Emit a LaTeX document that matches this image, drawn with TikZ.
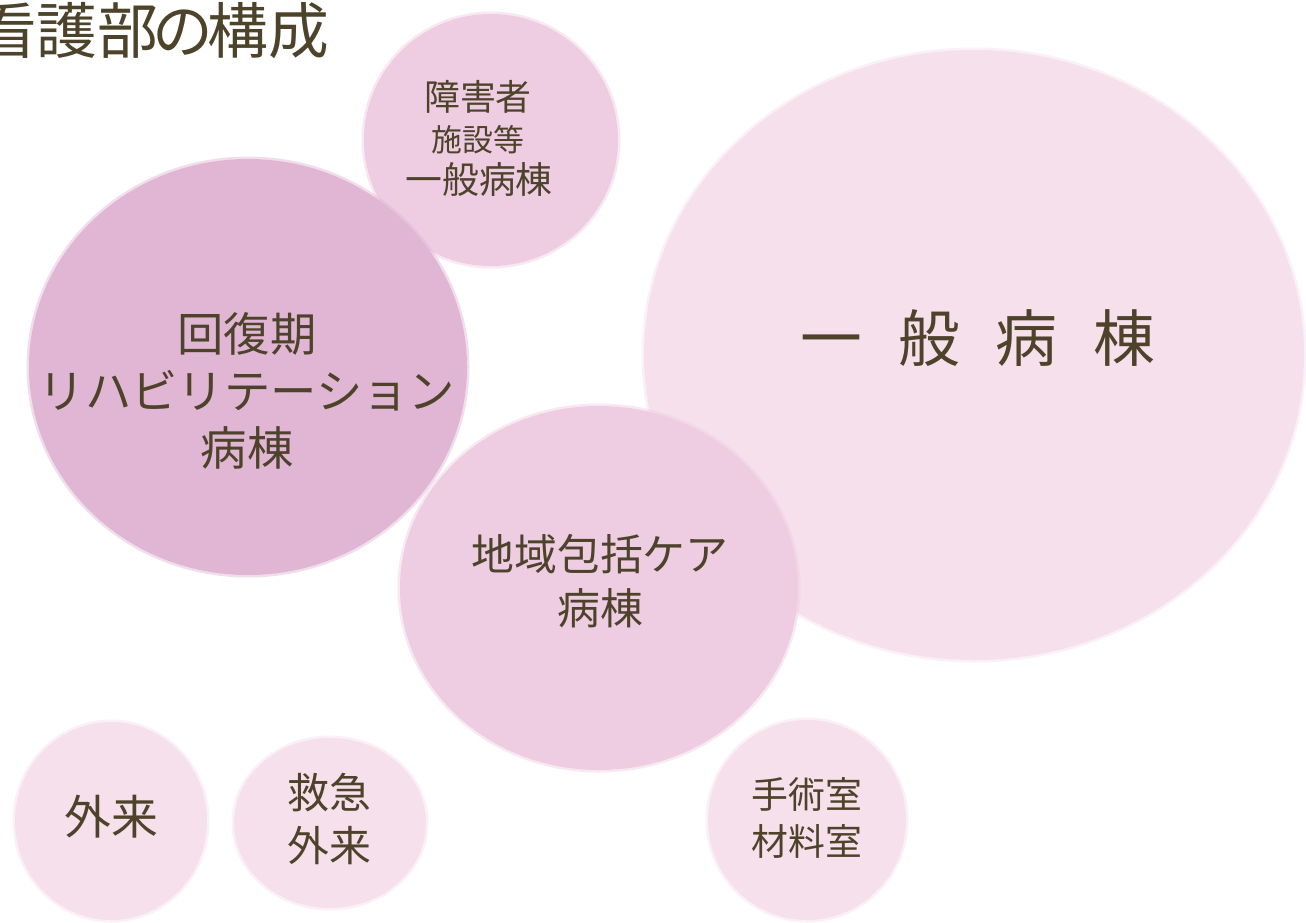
\documentclass[tikz,border=0pt]{standalone}
\usepackage{fontspec}
\setmainfont{Noto Sans CJK JP}
\usetikzlibrary{shapes.geometric}
\definecolor{txt}{RGB}{77,67,42}
\definecolor{pinkA}{RGB}{246,224,236}
\definecolor{pinkB}{RGB}{238,205,226}
\definecolor{pinkC}{RGB}{224,182,212}
\tikzset{
  blob/.style={ellipse, inner sep=0pt, outer sep=0pt, fill=#1, draw=#1, draw opacity=0.45, line width=5bp},
  lbl/.style={text=txt, align=center, inner sep=0pt},
}
\begin{document}
\begin{tikzpicture}[x=1bp,y=-1bp]
\useasboundingbox (0,0) rectangle (1306,922);
\fill[white] (0,0) rectangle (1306,922);
% circles
\node[blob=pinkA, minimum width=660bp, minimum height=610bp] (ippan) at (974,355) {};
\node[blob=pinkB, minimum width=254bp, minimum height=252bp] (shogai) at (491,140) {};
\node[blob=pinkC, minimum width=438bp, minimum height=416bp] (kaifuku) at (248,367) {};
\node[blob=pinkB, minimum width=398bp, minimum height=364bp] (chiiki) at (599,588) {};
\node[blob=pinkA, minimum width=192bp, minimum height=198bp] (gairai) at (111,821) {};
\node[blob=pinkA, minimum width=192bp, minimum height=170bp] (kyukyu) at (330,823) {};
\node[blob=pinkA, minimum width=198bp, minimum height=200bp] (shujutsu) at (807,820) {};
% title (cut off at the left edge, as in the reference)
\node[lbl, anchor=east, font=\fontsize{61}{64}\selectfont] (title) at (329,31) {看護部\kern-6bp の\kern-6bp 構成};
% labels
\node[lbl, font=\fontsize{36}{40}\selectfont] (t1a) at (478,97) {障害者};
\node[lbl, font=\fontsize{31}{36}\selectfont] (t1b) at (478,140) {施設等};
\node[lbl, font=\fontsize{37}{42}\selectfont] (t1c) at (479,180) {一般病棟};
\node[lbl, font=\fontsize{46.5}{57}\selectfont] (t2) at (247,391) {回復期\\リハビリテーション\\病棟};
\node[lbl, font=\fontsize{62}{70}\selectfont] (t3) at (978,338) {一\hspace{36bp}般\hspace{36bp}病\hspace{36bp}棟};
\node[lbl, font=\fontsize{43}{54}\selectfont] (t4) at (600,581) {地域包括ケア\\病棟};
\node[lbl, font=\fontsize{47}{54}\selectfont] (t5) at (111,817) {外来};
\node[lbl, font=\fontsize{42}{53}\selectfont] (t6) at (329,819) {救急\\外来};
\node[lbl, font=\fontsize{37}{47}\selectfont] (t7) at (807,818) {手術室\\材料室};
\end{tikzpicture}
\end{document}
